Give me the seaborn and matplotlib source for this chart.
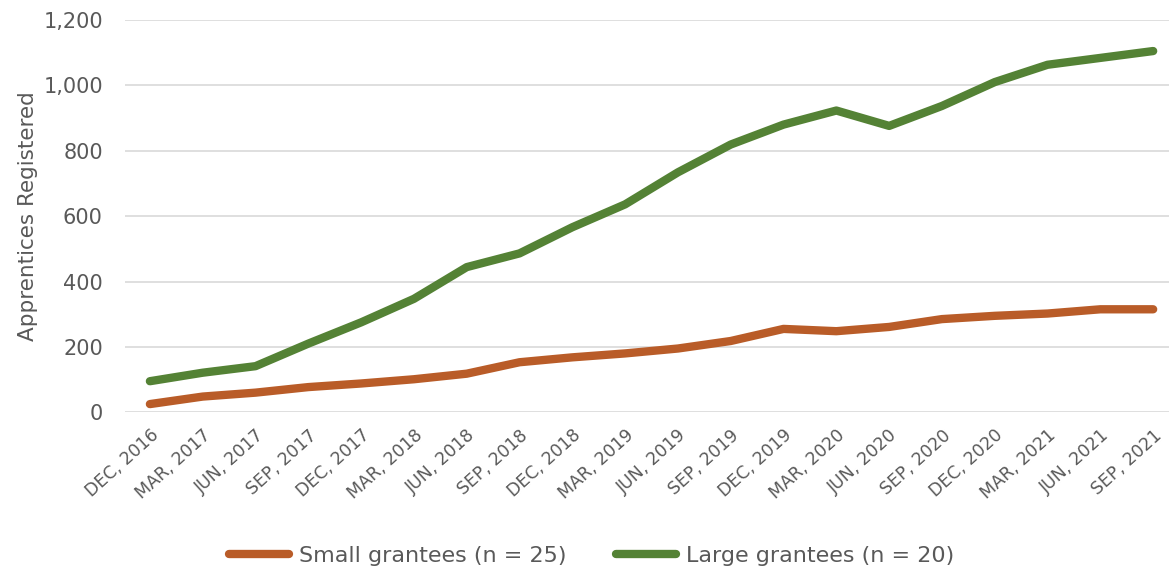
import numpy as np
import pandas as pd
import matplotlib
matplotlib.use("Agg")
import matplotlib.pyplot as plt
import seaborn as sns

quarters = ["DEC, 2016", "MAR, 2017", "JUN, 2017", "SEP, 2017", "DEC, 2017",
            "MAR, 2018", "JUN, 2018", "SEP, 2018", "DEC, 2018", "MAR, 2019",
            "JUN, 2019", "SEP, 2019", "DEC, 2019", "MAR, 2020", "JUN, 2020",
            "SEP, 2020", "DEC, 2020", "MAR, 2021", "JUN, 2021", "SEP, 2021"]
small = [25, 48, 60, 77, 88, 101, 118, 153, 168, 180,
         195, 218, 255, 248, 261, 285, 295, 302, 315, 315]
large = [95, 121, 141, 210, 275, 347, 444, 486, 566, 636,
         734, 819, 880, 923, 876, 937, 1010, 1063, 1084, 1105]
series_names = ["Small grantees (n = 25)", "Large grantees (n = 20)"]
colors = ["#B95C28", "#548235"]

df = pd.DataFrame({
    "pos": list(range(len(quarters))) * 2,
    "value": small + large,
    "group": [series_names[0]] * len(quarters) + [series_names[1]] * len(quarters),
})

sns.set_style("white")
plt.rcParams["font.family"] = ["DejaVu Sans"]
text_col = "#595959"

fig = plt.figure(figsize=(11.69, 5.71), dpi=100)
ax = fig.add_axes([0.107, 0.278, 0.893, 0.687])

sns.lineplot(data=df, x="pos", y="value", hue="group", palette=colors,
             linewidth=6, ax=ax, solid_capstyle="round", legend=True)

ax.set_ylim(0, 1200)
ax.set_xlim(-0.47, 19.3)
ax.set_yticks(range(0, 1201, 200))
ax.set_yticklabels([f"{v:,}" for v in range(0, 1201, 200)], fontsize=15, color=text_col)
ax.set_xticks(range(len(quarters)))
ax.set_xticklabels(quarters, rotation=42, ha="right", rotation_mode="anchor",
                   fontsize=12.5, color=text_col)
ax.tick_params(axis="x", length=0, pad=10)
ax.tick_params(axis="y", length=0, pad=16)
ax.yaxis.grid(True, color="#D9D9D9", linewidth=1.2)
ax.set_axisbelow(True)
for s in ax.spines.values():
    s.set_visible(False)
ax.set_xlabel("")
ax.set_ylabel("Apprentices Registered", fontsize=15.5, color=text_col, labelpad=4)

handles, labels = ax.get_legend_handles_labels()
ax.get_legend().remove()
leg = fig.legend(handles, labels, loc="center", bbox_to_anchor=(0.506, 0.026), ncol=2,
                 frameon=False, fontsize=16, handlelength=2.7, handletextpad=0.45,
                 columnspacing=2.2)
for t in leg.get_texts():
    t.set_color(text_col)
for h in leg.get_lines():
    h.set_linewidth(6)
    h.set_solid_capstyle("round")

fig.savefig("out.png", dpi=100)
